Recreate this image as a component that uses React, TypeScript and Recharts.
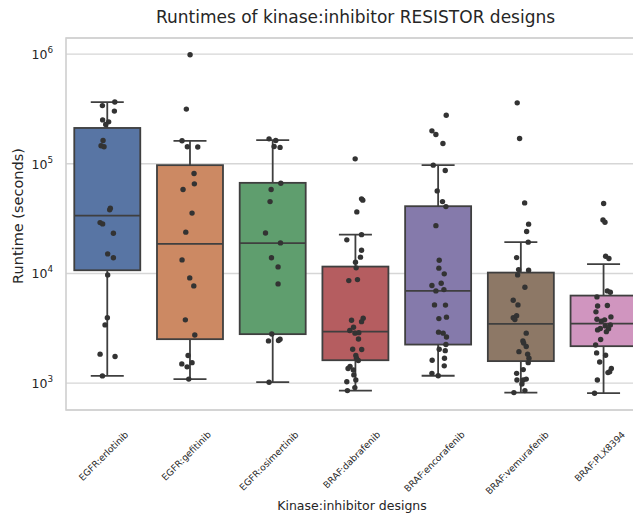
import React from "react";
import {
  Bar,
  CartesianGrid,
  ComposedChart,
  ReferenceArea,
  Scatter,
  XAxis,
  YAxis,
} from "recharts";

const categories = [
  "EGFR:erlotinib",
  "EGFR:gefitinib",
  "EGFR:osimertinib",
  "BRAF:dabrafenib",
  "BRAF:encorafenib",
  "BRAF:vemurafenib",
  "BRAF:PLX8394",
];

// box statistics (seconds)
const whiskerHigh = [365000, 161800, 164000, 22600, 97100, 19300, 12160];
const q3 = [212000, 97100, 67000, 11560, 41040, 10190, 6290];
const medians = [33700, 18600, 18900, 2950, 6940, 3470, 3490];
const q1 = [10700, 2520, 2800, 1620, 2250, 1590, 2175];
const whiskerLow = [1166, 1090, 1021, 856, 1170, 821, 811];

const yTicks = [1e3, 1e4, 1e5, 1e6];
const yDomain = [570, 1.4e6];

// individual runs: [seconds, strip jitter in category units]
const erlotinib = [
  [365000, 0.09], [339000, -0.06], [302000, 0.085], [251000, -0.057], [241000, 0.016],
  [228000, -0.02], [163000, -0.052], [146000, -0.076], [143000, -0.04], [39400, 0.036],
  [38000, 0.028], [29100, -0.088], [28300, -0.057], [23300, 0.073], [15100, 0.004],
  [13900, 0.073], [9710, 0.004], [3960, 0], [3400, -0.028], [1840, -0.088],
  [1750, 0.093], [1166, -0.06],
];
const gefitinib = [
  [984000, 0], [315000, -0.045], [162000, -0.097], [143000, -0.033], [142000, 0.093],
  [81400, 0.048], [65600, 0.052], [58200, -0.085], [35500, 0.024], [23800, -0.052],
  [13300, -0.097], [9120, -0.004], [7710, 0.045], [3780, -0.057], [2750, 0.057],
  [1790, -0.024], [1500, -0.1], [1540, 0.024], [1410, -0.036], [1090, -0.016],
];
const osimertinib = [
  [168700, -0.045], [162700, 0.036], [143500, 0.016], [141000, 0.088], [66500, 0.097],
  [58200, -0.02], [45200, -0.033], [23400, -0.088], [19000, 0.093], [13900, -0.016],
  [11480, 0.064], [8040, 0.064], [2810, -0.012], [2430, -0.052], [2450, 0.069],
  [2520, 0.088], [1021, -0.045],
];
const dabrafenib = [
  [110900, -0.004], [47900, 0.073], [46600, 0.088], [36400, 0.016], [22600, 0.073],
  [20250, -0.105], [16300, 0.073], [14090, 0.06], [12680, 0], [11250, 0.008],
  [8610, -0.081], [8800, 0.024], [3910, 0.093], [3640, 0.073], [3750, -0.048],
  [3240, -0.024], [3020, -0.069], [2860, -0.006], [2890, 0.04], [2530, 0.036],
  [2040, -0.034], [2030, 0.075], [1790, 0.004], [1690, 0.012], [1610, 0.034],
  [1420, -0.066], [1360, -0.09], [1320, -0.026], [1190, -0.02], [1070, 0.004],
  [1030, -0.105], [912, -0.008], [856, -0.098],
];
const encorafenib = [
  [277000, 0.097], [199500, -0.076], [184600, -0.028], [152800, 0.057], [97100, -0.06],
  [86700, 0.085], [56600, -0.012], [45200, 0.052], [40700, 0.093], [27300, -0.028],
  [13220, 0.012], [11180, 0.008], [9920, 0.073], [8160, 0.036], [7760, -0.076],
  [6940, -0.028], [7130, 0.069], [5170, -0.045], [5150, 0.088], [3880, 0.008],
  [4000, 0.1], [2920, 0.004], [2860, 0.06], [2640, 0.1], [2250, 0.093],
  [2040, 0.012], [1980, 0.085], [1690, 0.076], [1620, -0.073], [1440, 0.073],
  [1230, -0.076], [1170, 0],
];
const vemurafenib = [
  [359000, -0.045], [169800, -0.016], [44000, 0.045], [28150, 0.093], [24100, 0.069],
  [19300, 0.088], [13960, -0.052], [10850, -0.028], [10700, 0.093], [9710, -0.04],
  [7500, 0.048], [5710, -0.093], [5170, -0.036], [3960, -0.093], [4130, -0.052],
  [3800, -0.073], [2860, 0.064], [2430, 0.024], [2320, 0.033], [2160, 0.064],
  [1940, -0.024], [1840, 0.081], [1690, 0.097], [1540, 0.088], [1230, -0.052],
  [1330, 0.028], [1070, -0.048], [1070, 0.028], [1090, 0.064], [985, 0.012],
  [821, -0.085], [856, 0.048],
];
const plx8394 = [
  [43500, 0], [30800, -0.008], [29350, 0.016], [14380, 0.024], [13680, 0.064],
  [6940, 0.045], [6750, 0.081], [6120, -0.081], [5100, 0.045], [5050, -0.073],
  [4470, -0.093], [4020, 0.088], [3830, -0.081], [3670, -0.028], [3780, 0.012],
  [3330, 0.02], [3400, 0.081], [3130, 0.06], [3150, -0.04], [3060, -0.073],
  [2950, 0.033], [2500, -0.036], [2230, -0.097], [1890, -0.085], [1800, 0.024],
  [1560, -0.048], [1360, 0.093], [1270, 0.073], [1250, 0.052], [1070, -0.076],
  [811, -0.11],
];
const runs = [erlotinib, gefitinib, osimertinib, dabrafenib, encorafenib, vemurafenib, plx8394];

const boxColors = ["#5875a4", "#cc8963", "#5f9e6e", "#b55d60", "#857aab", "#8d7866", "#d095bf"];
const EDGE = "#3f3f3f";
const TEXT = "#262626";
const FONT = "'DejaVu Sans', sans-serif";

const boxData = categories.map((name, i) => ({
  name,
  range: [whiskerLow[i], whiskerHigh[i]],
  lo: whiskerLow[i],
  q1: q1[i],
  med: medians[i],
  q3: q3[i],
  hi: whiskerHigh[i],
  color: boxColors[i],
}));

const points = runs.flatMap((arr, i) => arr.map(([v, j]) => ({ x: i + j, y: v })));

let measureCtx: CanvasRenderingContext2D | null = null;
function textWidth(s: string, font: string) {
  if (!measureCtx) measureCtx = document.createElement("canvas").getContext("2d");
  if (!measureCtx) return s.length * 5;
  measureCtx.font = font;
  return measureCtx.measureText(s).width;
}

// whiskers + box + median; positions interpolated in log space from the bar's own extent
function BoxShape(props: any) {
  const { x, y, width, height, payload } = props;
  const top = Math.log10(payload.hi);
  const bot = Math.log10(payload.lo);
  const py = (v: number) => y + ((top - Math.log10(v)) / (top - bot)) * height;
  const cx = x + width / 2;
  const cap = width / 4;
  const y3 = py(payload.q3);
  const y1 = py(payload.q1);
  const ym = py(payload.med);
  return (
    <g stroke={EDGE} strokeWidth={1.8}>
      <line x1={cx} x2={cx} y1={y} y2={y3} />
      <line x1={cx} x2={cx} y1={y1} y2={y + height} />
      <line x1={cx - cap} x2={cx + cap} y1={y} y2={y} />
      <line x1={cx - cap} x2={cx + cap} y1={y + height} y2={y + height} />
      <rect x={x} y={y3} width={width} height={y1 - y3} fill={payload.color} />
      <line x1={x} x2={x + width} y1={ym} y2={ym} />
    </g>
  );
}

function Dot(props: any) {
  return <circle cx={props.cx} cy={props.cy} r={2.7} fill="#333333" />;
}

function YTick({ x, y, payload }: any) {
  const exp = Math.round(Math.log10(payload.value));
  return (
    <text x={x} y={y + 5} textAnchor="end" fill={TEXT} fontFamily={FONT} fontSize={12.5}>
      10
      <tspan dy={-6} fontSize={8.8}>{exp}</tspan>
    </text>
  );
}

function XTick({ x, y, payload }: any) {
  const fs = 9.2;
  const L = textWidth(payload.value, `${fs}px DejaVu Sans`);
  const half = ((L + fs * 1.16) * Math.SQRT1_2) / 2;
  const cx = x - 4;
  const cy = y + 19 + half;
  return (
    <text
      x={cx}
      y={cy}
      textAnchor="middle"
      dominantBaseline="central"
      transform={`rotate(-45 ${cx} ${cy})`}
      fill={TEXT}
      fontFamily={FONT}
      fontSize={fs}
    >
      {payload.value}
    </text>
  );
}

export default function App() {
  return (
    <div
      style={{
        position: "fixed",
        left: 0,
        top: 0,
        width: 633,
        height: 515,
        overflow: "hidden",
        background: "#fff",
        fontFamily: FONT,
        color: TEXT,
      }}
    >
      <div style={{ position: "absolute", left: 66, width: 579, top: 7, textAlign: "center", fontSize: 17 }}>
        Runtimes of kinase:inhibitor RESISTOR designs
      </div>
      <div
        style={{
          position: "absolute",
          left: 18,
          top: 216,
          fontSize: 14.5,
          whiteSpace: "nowrap",
          transform: "translate(-50%, -50%) rotate(-90deg)",
        }}
      >
        Runtime (seconds)
      </div>
      <div
        style={{
          position: "absolute",
          left: 352,
          top: 505,
          fontSize: 12.5,
          whiteSpace: "nowrap",
          transform: "translate(-50%, -50%)",
        }}
      >
        Kinase:inhibitor designs
      </div>
      <ComposedChart
        width={650}
        height={515}
        data={boxData}
        margin={{ top: 38, right: 5, left: 10, bottom: 0 }}
        barCategoryGap="10%"
      >
        <XAxis
          xAxisId="cat"
          dataKey="name"
          type="category"
          height={105}
          tickLine={false}
          axisLine={false}
          tickSize={0}
          tickMargin={0}
          interval={0}
          tick={<XTick />}
        />
        <XAxis xAxisId="num" dataKey="x" type="number" domain={[-0.5, 6.5]} hide allowDataOverflow />
        <YAxis
          scale="log"
          type="number"
          domain={yDomain}
          allowDataOverflow
          ticks={yTicks}
          width={56}
          tickLine={false}
          axisLine={false}
          tickSize={0}
          tickMargin={13}
          tick={<YTick />}
        />
        <CartesianGrid xAxisId="num" vertical={false} stroke="#d6d6d6" strokeWidth={1.3} />
        <ReferenceArea
          xAxisId="num"
          x1={-0.5}
          x2={6.5}
          y1={yDomain[0]}
          y2={yDomain[1]}
          fill="none"
          stroke="#cfcfcf"
          strokeWidth={1.6}
          ifOverflow="visible"
        />
        <Bar xAxisId="cat" dataKey="range" shape={<BoxShape />} isAnimationActive={false} />
        <Scatter xAxisId="num" data={points} dataKey="y" shape={<Dot />} isAnimationActive={false} />
      </ComposedChart>
    </div>
  );
}
